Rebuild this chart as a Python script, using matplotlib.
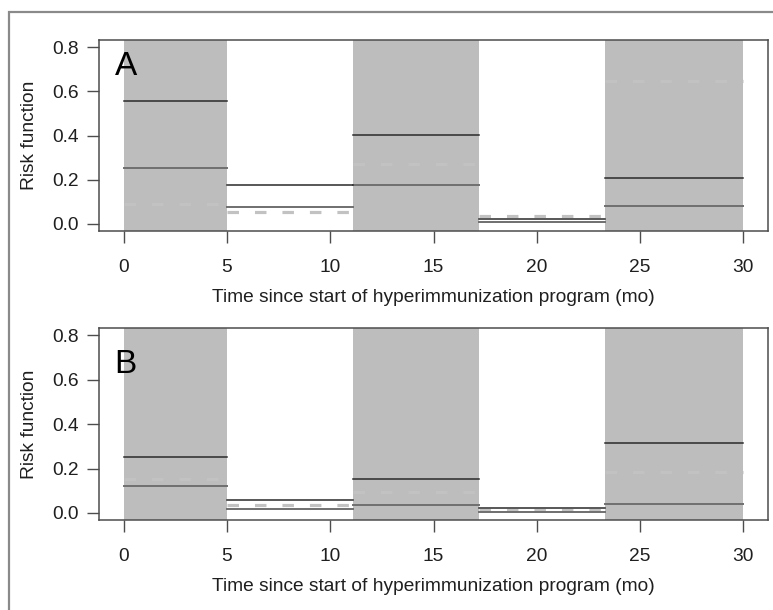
import numpy as np
import matplotlib.pyplot as plt
from matplotlib.patches import Rectangle

plt.rcParams['font.family'] = ['Liberation Sans', 'DejaVu Sans']

# interval boundaries (months) and which intervals are shaded
breaks = [0, 5, 11.1, 17.2, 23.3, 30]
shaded = [True, False, True, False, True]

# panel A risk levels per interval
a_black = [0.556, 0.178, 0.404, 0.022, 0.206]
a_gray = [0.255, 0.078, 0.175, 0.010, 0.082]
a_dash = [0.089, 0.056, 0.271, 0.035, 0.647]

# panel B risk levels per interval
b_black = [0.251, 0.057, 0.153, 0.022, 0.317]
b_gray = [0.120, 0.019, 0.037, 0.006, 0.041]
b_dash = [0.152, 0.034, 0.092, 0.013, 0.185]

xticks = [0, 5, 10, 15, 20, 25, 30]
yticks = [0.0, 0.2, 0.4, 0.6, 0.8]

W, H = 773, 610
fig = plt.figure(figsize=(W / 100, H / 100), dpi=100)

# grey frame around the figure (only left and top visible)
fig.add_artist(Rectangle((8.5 / W, -0.1), 1.2, 1.1 - 12 / H, transform=fig.transFigure,
                         fill=False, edgecolor="#8a8a8a", linewidth=1.6))

frame_col = "#4d4d4d"
text_col = "#1f1f1f"


def panel(rect, black, gray, dash, letter, letter_y):
    ax = fig.add_axes(rect)
    for i in range(len(breaks) - 1):
        x0, x1 = breaks[i], breaks[i + 1]
        if shaded[i]:
            ax.axvspan(x0, x1, color="#bdbdbd", lw=0, zorder=1)
    for i in range(len(breaks) - 1):
        x0, x1 = breaks[i], breaks[i + 1]
        ax.plot([x0, x1], [dash[i], dash[i]], color="#c2c2c2", lw=2.3,
                linestyle=(0, (3.6, 5.0)), dash_capstyle="butt", zorder=2)
        ax.plot([x0, x1], [gray[i], gray[i]], color="#6f6f6f", lw=1.4, zorder=3)
        ax.plot([x0, x1], [black[i], black[i]], color="#2a2a2a", lw=1.1, zorder=4)

    ax.set_xlim(-1.2, 31.2)
    ax.set_ylim(-0.032, 0.832)
    ax.set_xticks(xticks)
    ax.set_yticks(yticks)
    ax.set_yticklabels([f"{v:.1f}" for v in yticks])
    ax.tick_params(axis="both", direction="out", length=8.5, width=1.0,
                   color=frame_col, labelcolor=text_col, labelsize=13.8)
    ax.tick_params(axis="x", pad=12)
    ax.tick_params(axis="y", pad=6)
    for sp in ax.spines.values():
        sp.set_color(frame_col)
        sp.set_linewidth(1.1)
    ax.set_ylabel("Risk function", fontsize=13.8, color=text_col, labelpad=10)
    ax.set_xlabel("Time since start of hyperimmunization program (mo)",
                  fontsize=13.8, color=text_col, labelpad=9)
    ax.text(-0.45, letter_y, letter, fontsize=24, color="black",
            ha="left", va="top", zorder=5)
    return ax


panel([99 / W, 1 - 231 / H, 669 / W, 191 / H], a_black, a_gray, a_dash, "A", 0.78)
panel([99 / W, 1 - 520 / H, 669 / W, 191.7 / H], b_black, b_gray, b_dash, "B", 0.74)

fig.savefig("out.png", dpi=100)
